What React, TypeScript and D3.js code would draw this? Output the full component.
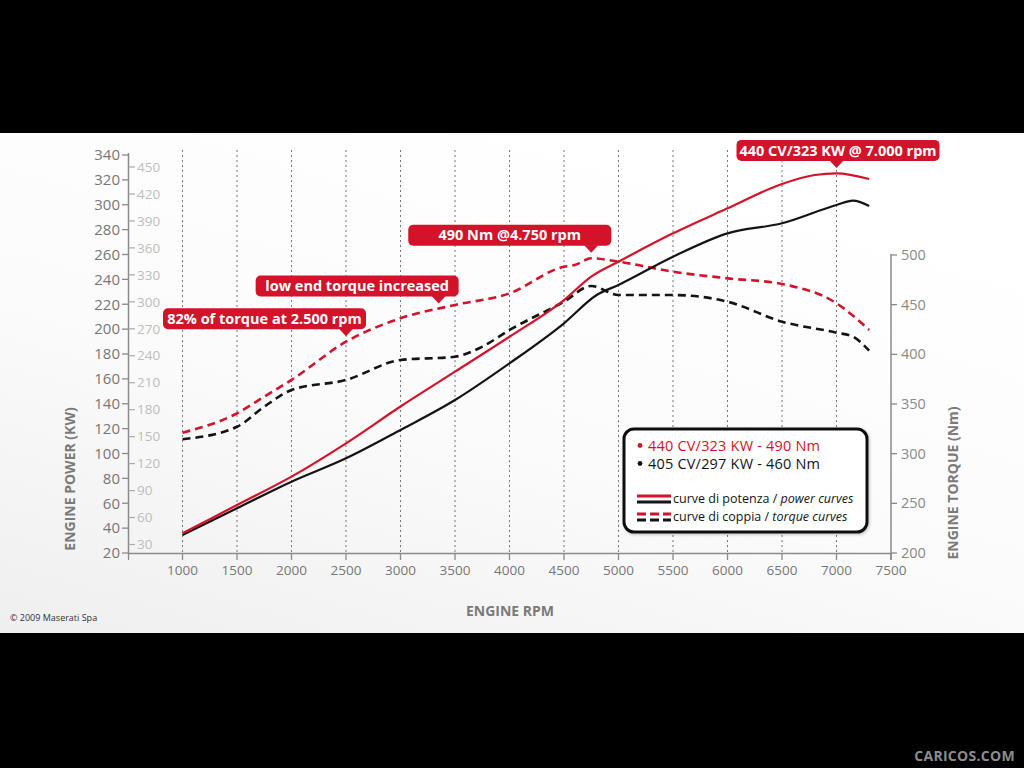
import React from 'react';
import * as d3 from 'd3';

// ---------- data ----------
const rpmTicks = [1000, 1500, 2000, 2500, 3000, 3500, 4000, 4500, 5000, 5500, 6000, 6500, 7000, 7500];
const powerTicks = [20, 40, 60, 80, 100, 120, 140, 160, 180, 200, 220, 240, 260, 280, 300, 320, 340];
const cvTicks = [30, 60, 90, 120, 150, 180, 210, 240, 270, 300, 330, 360, 390, 420, 450];
const torqueTicks = [200, 250, 300, 350, 400, 450, 500];

const redPowerRpm = [1000, 1500, 2000, 2500, 3000, 3500, 4000, 4500, 4750, 5000, 5500, 6000, 6500, 6800, 7000, 7300];
const redPowerKw = [35.8, 58.6, 81.4, 108.2, 137.8, 165.8, 193.9, 223.4, 242.2, 254.2, 277, 297.1, 316.7, 323.9, 325.2, 320.7];

const blackPowerRpm = [1000, 1500, 2000, 2500, 3000, 3500, 4000, 4500, 4800, 5000, 5500, 6000, 6500, 7000, 7150, 7300];
const blackPowerKw = [34.5, 56, 77.3, 96.1, 118.9, 143, 172.5, 204.7, 227.4, 235.5, 258.2, 277, 285.1, 299.8, 303.3, 299];

const redTorqueRpm = [1000, 1500, 1750, 2000, 2500, 3000, 3500, 4000, 4500, 4600, 4750, 5000, 5500, 6000, 6500, 7000, 7300];
const redTorqueNm = [321.1, 340.6, 357.4, 374.2, 412.7, 436.3, 449.7, 461.4, 488.2, 489.9, 496.7, 493.3, 483.2, 476.5, 470.8, 451.4, 424.5];

const blackTorqueRpm = [1000, 1500, 1750, 2000, 2500, 3000, 3500, 3750, 4000, 4500, 4750, 5000, 5500, 6000, 6500, 7000, 7150, 7300];
const blackTorqueNm = [314.5, 327.1, 347.3, 364.1, 374.2, 394.3, 397.6, 407.7, 424.5, 453, 468.8, 459.7, 459.7, 453, 432.9, 421.8, 417.8, 403.7];

const annoTexts = ['440 CV/323 KW @ 7.000 rpm', '490 Nm @4.750 rpm', 'low end torque increased', '82% of torque at 2.500 rpm'];
const annoRpm = [7000, 4750, 3350, 2500];
const annoSeries = ['power', 'torque', 'torque', 'torque'];

const legendSpecs = ['440 CV/323 KW - 490 Nm', '405 CV/297 KW - 460 Nm'];

const RED = '#d2132a';
const BLACK = '#141414';
const FONT = '"Open Sans", "DejaVu Sans", sans-serif';

export default function App() {
  const x = d3.scaleLinear().domain([500, 7500]).range([128, 891]);
  const yPow = d3.scaleLinear().domain([20, 340]).range([553, 155]);
  const yCv = d3.scaleLinear().domain([30, 450]).range([544.5, 167]);
  const yTq = d3.scaleLinear().domain([200, 500]).range([553, 255]);

  const mk = (rpms: number[], vals: number[], y: d3.ScaleLinear<number, number>) =>
    d3.line<number>().x((_, i) => x(rpms[i])).y((v) => y(v)).curve(d3.curveMonotoneX)(vals) || '';

  const interp = (rpms: number[], vals: number[], r: number) => {
    const i = d3.bisectLeft(rpms, r);
    if (i <= 0) return vals[0];
    if (i >= rpms.length) return vals[vals.length - 1];
    const t = (r - rpms[i - 1]) / (rpms[i] - rpms[i - 1]);
    return vals[i - 1] + t * (vals[i] - vals[i - 1]);
  };

  const annos = annoTexts.map((t, i) => {
    const r = annoRpm[i];
    const cy = annoSeries[i] === 'power' ? yPow(interp(redPowerRpm, redPowerKw, r)) : yTq(interp(redTorqueRpm, redTorqueNm, r));
    const tipY = cy - 5.5;
    const px = x(r);
    const w = 203;
    const bottom = tipY - 7;
    const top = bottom - 21;
    const left = i === 0 ? px - 100 : px + 20 - w;
    return { t, px, tipY, bottom, top, left, w };
  });

  return (
    <svg width={1024} height={768} style={{ position: 'absolute', left: 0, top: 0, fontFamily: FONT }}>
      <defs>
        <linearGradient id="bg" x1="0" y1="1" x2="0.6" y2="0">
          <stop offset="0" stopColor="#efefef" />
          <stop offset="0.5" stopColor="#fbfbfb" />
          <stop offset="1" stopColor="#ffffff" />
        </linearGradient>
        <filter id="sh" x="-10%" y="-10%" width="130%" height="130%">
          <feDropShadow dx="1" dy="1" stdDeviation="1.5" floodOpacity="0.25" />
        </filter>
      </defs>
      <rect x={0} y={0} width={1024} height={768} fill="#000" />
      <rect x={0} y={133} width={1024} height={500} fill="url(#bg)" />

      {/* grid */}
      {rpmTicks.filter((r) => r < 7500).map((r) => (
        <line key={'g' + r} x1={x(r)} x2={x(r)} y1={150} y2={553} stroke="#777" strokeWidth={1} strokeDasharray="2 3" />
      ))}

      {/* left axis */}
      <line x1={128.5} x2={128.5} y1={yPow(340) - 2} y2={553} stroke="#8a8a8a" strokeWidth={1.5} />
      {powerTicks.map((v) => (
        <g key={'p' + v}>
          <line x1={122} x2={128.5} y1={yPow(v)} y2={yPow(v)} stroke="#8a8a8a" strokeWidth={1.3} />
          <text x={120} y={yPow(v)} dy="0.35em" textAnchor="end" fontSize={15} fill="#777">{v}</text>
        </g>
      ))}
      {cvTicks.map((v) => (
        <g key={'c' + v}>
          <line x1={128.5} x2={135} y1={yCv(v)} y2={yCv(v)} stroke="#aaa" strokeWidth={1.2} />
          <text x={137} y={yCv(v)} dy="0.35em" textAnchor="start" fontSize={13.5} fill="#bdbdbd">{v}</text>
        </g>
      ))}

      {/* bottom axis */}
      <line x1={128} x2={891} y1={553.5} y2={553.5} stroke="#8a8a8a" strokeWidth={1.5} />
      {rpmTicks.map((r) => (
        <g key={'x' + r}>
          <line x1={x(r)} x2={x(r)} y1={553} y2={560} stroke="#8a8a8a" strokeWidth={1.3} />
          <text x={x(r)} y={570} dy="0.35em" textAnchor="middle" fontSize={13.5} fill="#777">{r}</text>
        </g>
      ))}
      <line x1={128.5} x2={128.5} y1={553} y2={560} stroke="#8a8a8a" strokeWidth={1.3} />

      {/* right axis */}
      <line x1={891} x2={891} y1={yTq(500) - 1} y2={560} stroke="#8a8a8a" strokeWidth={1.5} />
      {torqueTicks.map((v) => (
        <g key={'t' + v}>
          <line x1={891} x2={897} y1={yTq(v)} y2={yTq(v)} stroke="#8a8a8a" strokeWidth={1.3} />
          <text x={901} y={yTq(v)} dy="0.35em" textAnchor="start" fontSize={14.5} fill="#8a8a8a">{v}</text>
        </g>
      ))}

      {/* axis titles */}
      <text x={510} y={611} dy="0.35em" textAnchor="middle" fontSize={14} fontWeight="bold" fill="#7a7a7a">ENGINE RPM</text>
      <text transform="translate(70,479) rotate(-90)" dy="0.35em" textAnchor="middle" fontSize={14} fontWeight="bold" fill="#7a7a7a">ENGINE POWER (KW)</text>
      <text transform="translate(953,483) rotate(-90)" dy="0.35em" textAnchor="middle" fontSize={14} fontWeight="bold" fill="#7a7a7a">ENGINE TORQUE (Nm)</text>

      {/* curves */}
      <path d={mk(blackTorqueRpm, blackTorqueNm, yTq)} fill="none" stroke={BLACK} strokeWidth={2.6} strokeDasharray="8 5" />
      <path d={mk(redTorqueRpm, redTorqueNm, yTq)} fill="none" stroke={RED} strokeWidth={2.6} strokeDasharray="8 5" />
      <path d={mk(blackPowerRpm, blackPowerKw, yPow)} fill="none" stroke={BLACK} strokeWidth={2.2} />
      <path d={mk(redPowerRpm, redPowerKw, yPow)} fill="none" stroke={RED} strokeWidth={2.2} />

      {/* annotations */}
      {annos.map((a, i) => (
        <g key={'a' + i}>
          <rect x={a.left} y={a.top} width={a.w} height={a.bottom - a.top} rx={5} fill={RED} />
          <path d={`M${a.px - 7},${a.bottom - 0.5} L${a.px + 7},${a.bottom - 0.5} L${a.px},${a.tipY} Z`} fill={RED} />
          <text x={a.left + a.w / 2} y={(a.top + a.bottom) / 2} dy="0.36em" textAnchor="middle" fontSize={14.5} fontWeight="bold" fill="#fff">{a.t}</text>
        </g>
      ))}

      {/* legend */}
      <g filter="url(#sh)">
        <rect x={624} y={429} width={243} height={103} rx={10} fill="#fff" stroke="#111" strokeWidth={3} />
      </g>
      <circle cx={640} cy={445.5} r={2.4} fill={RED} />
      <text x={648} y={450.5} fontSize={14.5} letterSpacing={0.2} fill={RED}>{legendSpecs[0]}</text>
      <circle cx={640} cy={463.5} r={2.4} fill={BLACK} />
      <text x={648} y={468.5} fontSize={14.5} letterSpacing={0.2} fill={BLACK}>{legendSpecs[1]}</text>

      <line x1={637} x2={671} y1={496} y2={496} stroke={RED} strokeWidth={3} />
      <line x1={637} x2={671} y1={502} y2={502} stroke={BLACK} strokeWidth={3} />
      <text x={673} y={502.5} fontSize={12.5} fill={BLACK}>curve di potenza / <tspan fontStyle="italic">power curves</tspan></text>

      <line x1={637} x2={671} y1={514} y2={514} stroke={RED} strokeWidth={3} strokeDasharray="9 4" />
      <line x1={637} x2={671} y1={520} y2={520} stroke={BLACK} strokeWidth={3} strokeDasharray="9 4" />
      <text x={673} y={520.5} fontSize={12.5} fill={BLACK}>curve di coppia / <tspan fontStyle="italic">torque curves</tspan></text>

      {/* credits */}
      <text x={10} y={621} fontSize={9} fill="#333">© 2009 Maserati Spa</text>
      <text x={1015} y={761} textAnchor="end" fontSize={14} fontWeight="bold" fill="#8c8c8c" letterSpacing={0.3}>CARICOS.COM</text>
    </svg>
  );
}
